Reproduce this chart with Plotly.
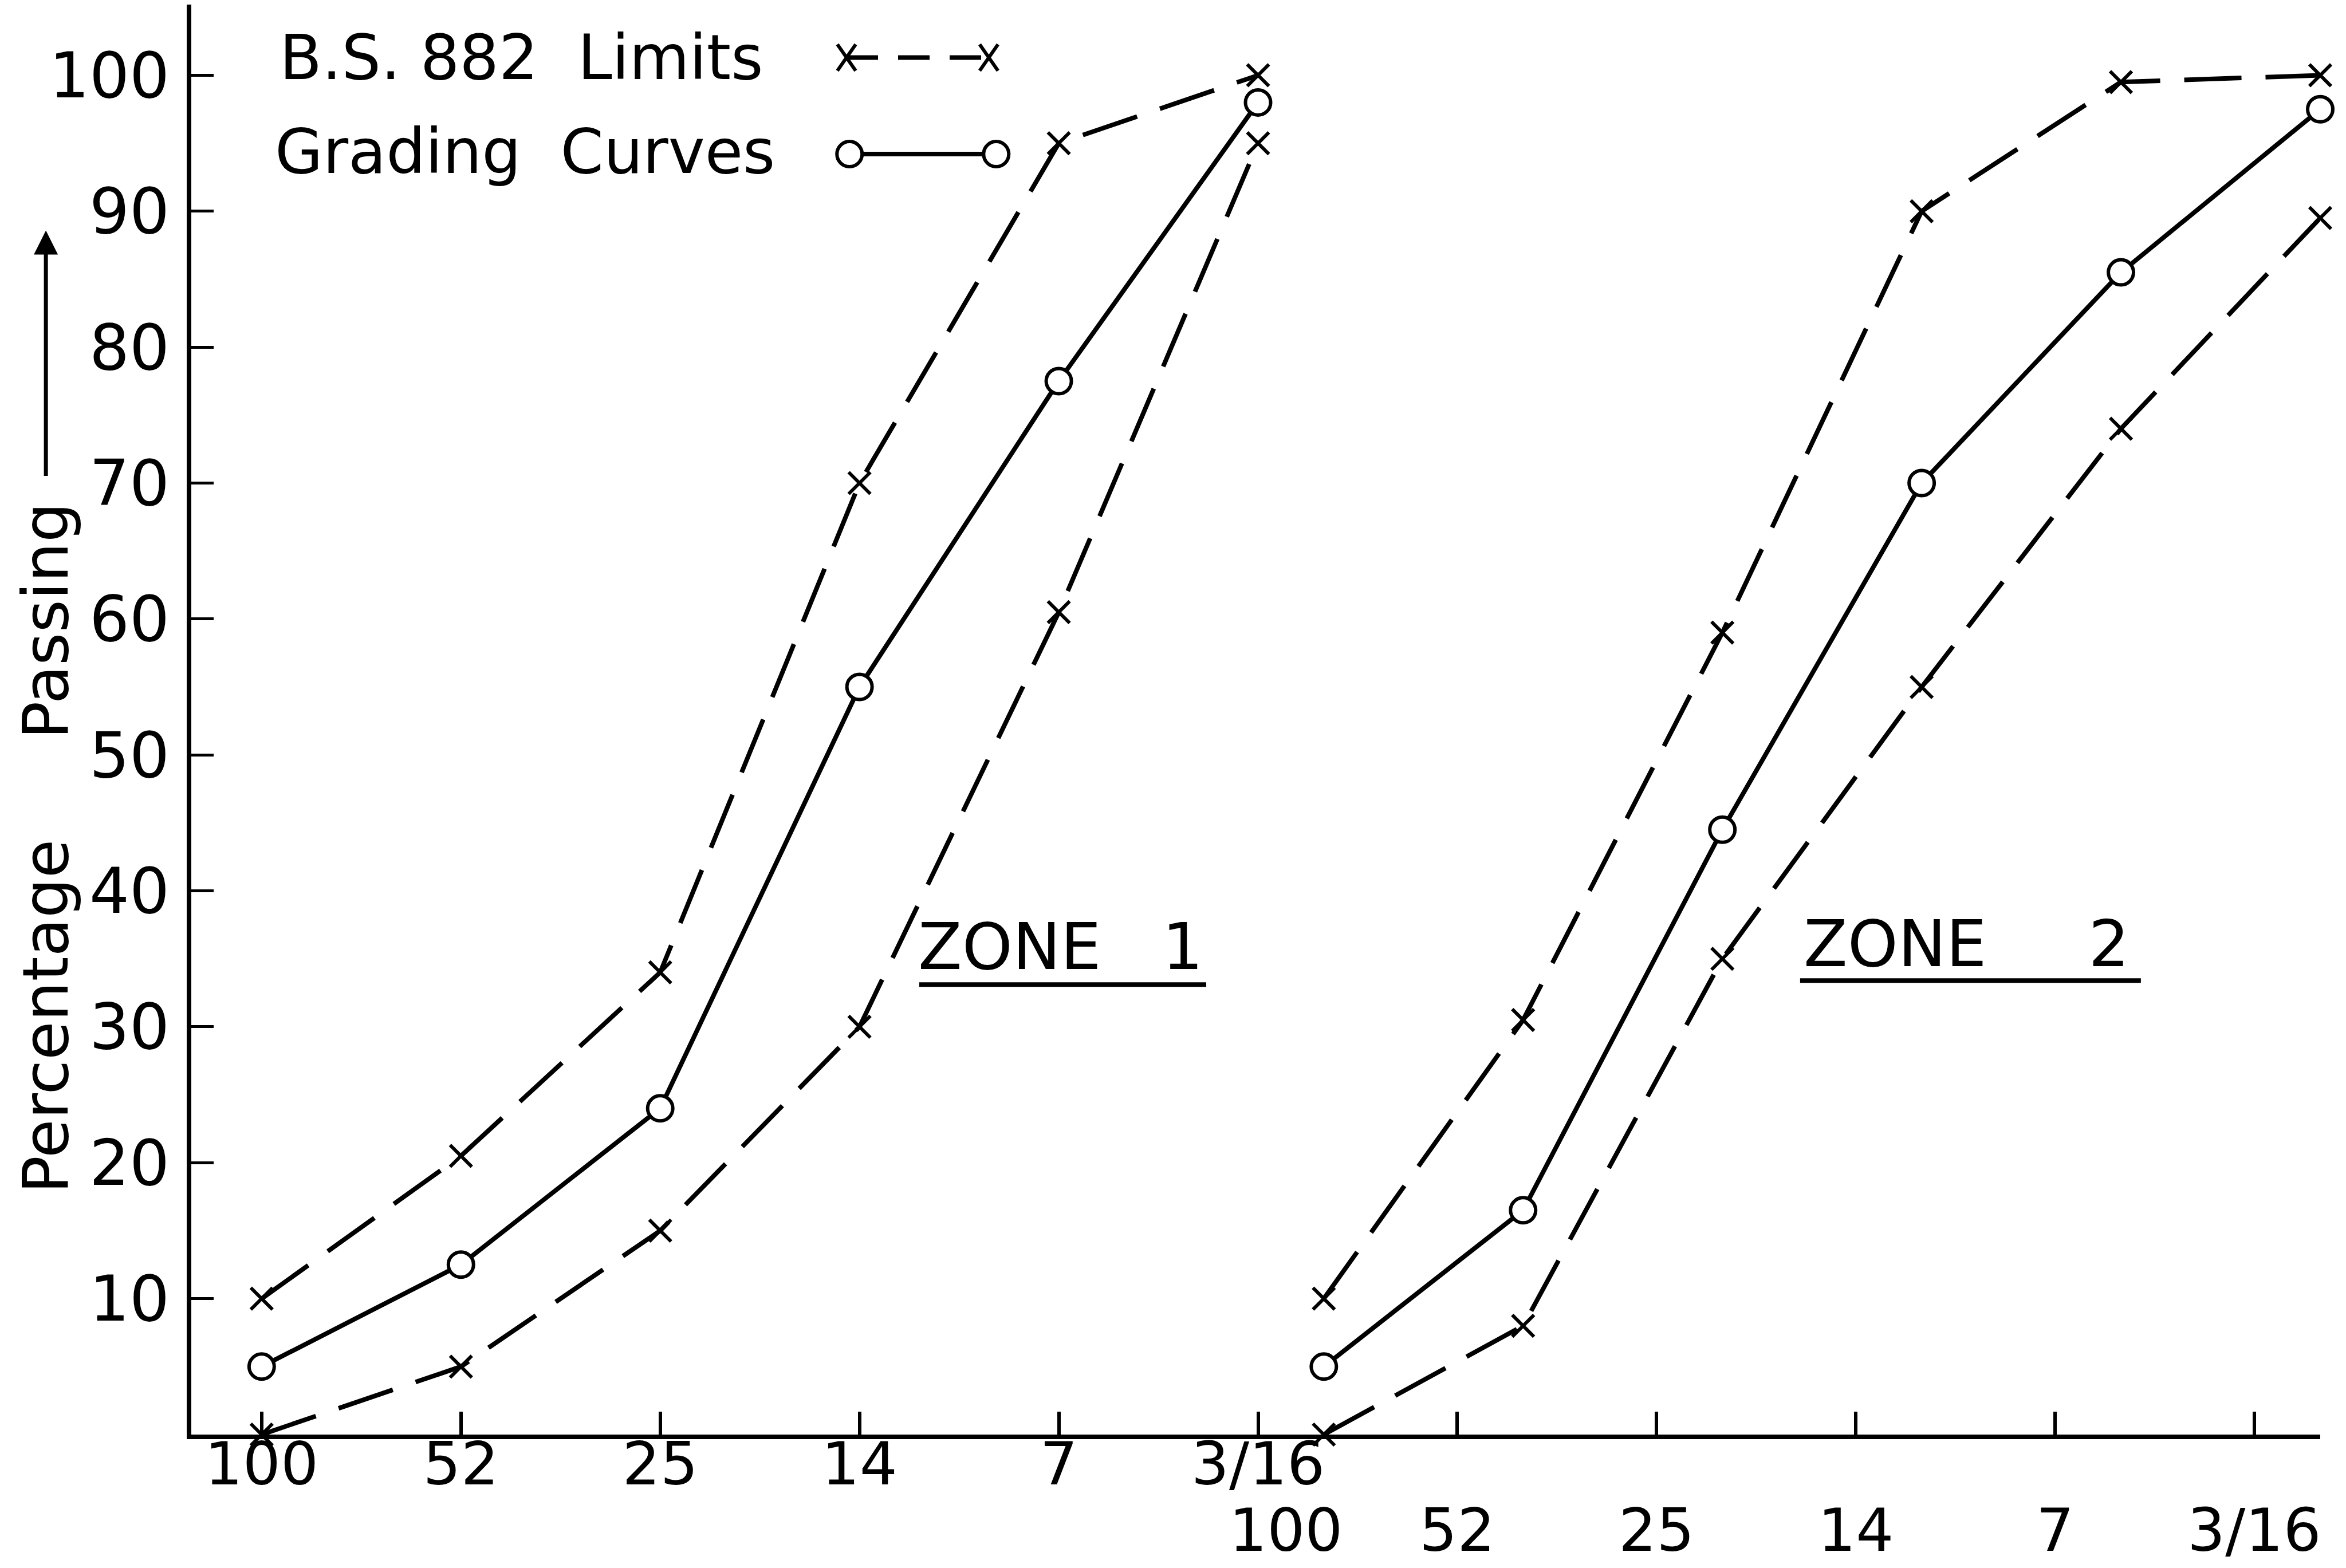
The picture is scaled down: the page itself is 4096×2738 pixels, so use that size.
import plotly.graph_objects as go

# ---------------- data ----------------
sieve_sizes = ["100", "52", "25", "14", "7", "3/16"]
zone2_offset = 5.33  # zone-2 curves are drawn shifted along the same axis

zone1_upper = [10, 20.5, 34, 70, 95, 100]
zone1_lower = [0, 5, 15, 30, 60.5, 95]
zone1_grading = [5, 12.5, 24, 55, 77.5, 98]

zone2_upper = [10, 30.5, 59, 90, 99.5, 100]
zone2_lower = [0, 8, 35, 55, 74, 89.5]
zone2_grading = [5, 16.5, 44.5, 70, 85.5, 97.5]

y_tick_values = [10, 20, 30, 40, 50, 60, 70, 80, 90, 100]

# ---------------- styling ----------------
FONT = "DejaVu Sans"
BLACK = "black"
DASH = "100px,42px"
LW = 8

n = len(sieve_sizes)
x1 = list(range(n))
x2 = [i + zone2_offset for i in range(n)]

fig = go.Figure()


def limit_trace(x, y):
    return go.Scatter(
        x=x, y=y, mode="lines+markers", showlegend=False, cliponaxis=False,
        line=dict(color=BLACK, width=LW, dash=DASH),
        marker=dict(symbol="x-thin", size=38, color=BLACK,
                    line=dict(color=BLACK, width=6)),
    )


def grading_trace(x, y):
    return go.Scatter(
        x=x, y=y, mode="lines+markers", showlegend=False, cliponaxis=False,
        line=dict(color=BLACK, width=LW),
        marker=dict(symbol="circle", size=44, color="white",
                    line=dict(color=BLACK, width=6)),
    )


fig.add_trace(limit_trace(x1, zone1_upper))
fig.add_trace(limit_trace(x1, zone1_lower))
fig.add_trace(limit_trace(x2, zone2_upper))
fig.add_trace(limit_trace(x2, zone2_lower))
fig.add_trace(grading_trace(x1, zone1_grading))
fig.add_trace(grading_trace(x2, zone2_grading))

# ticks at every sieve position of both zones; zone-1 labels on first row
tickvals = list(range(2 * n - 1))
ticktext = [sieve_sizes[i] if i < n else "" for i in tickvals]

# zone-2 labels form a second row (the first one sits a little right of tick 5)
row2_x = [n - 1 + 0.14] + [n - 1 + i for i in range(1, n)]

fig.update_layout(
    width=4096, height=2738,
    margin=dict(l=326, r=53, t=0, b=241, pad=0, autoexpand=False),
    paper_bgcolor="white", plot_bgcolor="white",
    font=dict(family=FONT, color=BLACK, size=108),
    xaxis=dict(
        range=[-0.353, 10.33], showgrid=False, zeroline=False,
        showline=True, linecolor=BLACK, linewidth=8,
        ticks="inside", ticklen=40, tickwidth=6, tickcolor=BLACK,
        tickvals=tickvals, ticktext=ticktext, automargin=False,
        tickfont=dict(family=FONT, size=104, color=BLACK),
        ticklabelstandoff=-46,
    ),
    yaxis=dict(
        range=[0, 105.2], showgrid=False, zeroline=False,
        showline=True, linecolor=BLACK, linewidth=8,
        ticks="inside", ticklen=39, tickwidth=5, tickcolor=BLACK,
        tickvals=y_tick_values, automargin=False,
        tickfont=dict(family=FONT, size=110, color=BLACK),
        ticklabelstandoff=8,
    ),
)

NB = "\u00a0"
annotations = [
    # axis title (rotated)
    dict(text="Percentage" + NB * 5 + "Passing", textangle=-90,
         xref="paper", yref="paper", x=-0.0683, y=0.41,
         xanchor="center", yanchor="middle", showarrow=False,
         font=dict(size=110)),
    # arrow after "Passing"
    dict(text="", xref="paper", yref="paper", x=-0.0683, y=0.842,
         showarrow=True, ax=0, ay=430, arrowhead=2, arrowsize=1.2,
         arrowwidth=7, arrowcolor=BLACK, standoff=0, startstandoff=0),
    # legend texts
    dict(text="B.S. 882" + NB * 2 + "Limits", xref="x", yref="y",
         x=0.083, y=101.3, xanchor="left", yanchor="middle",
         showarrow=False, font=dict(size=108)),
    dict(text="Grading" + NB * 2 + "Curves", xref="x", yref="y",
         x=0.06, y=94.4, xanchor="left", yanchor="middle",
         showarrow=False, font=dict(size=108)),
    # zone labels
    dict(text="ZONE" + NB * 3 + "1", xref="x", yref="y", x=4.01, y=35.9,
         xanchor="center", yanchor="middle", showarrow=False,
         font=dict(size=112)),
    dict(text="ZONE" + NB * 5 + "2", xref="x", yref="y", x=8.555, y=36.1,
         xanchor="center", yanchor="middle", showarrow=False,
         font=dict(size=112)),
]
for xv, label in zip(row2_x, sieve_sizes):
    annotations.append(dict(text=label, xref="x", yref="paper", x=xv,
                            y=-0.067, xanchor="center", yanchor="middle",
                            showarrow=False, font=dict(size=104)))
fig.update_layout(annotations=annotations)

shapes = [
    # zone underlines
    dict(type="line", xref="x", yref="y", x0=3.30, x1=4.74, y0=33.1, y1=33.1,
         line=dict(color=BLACK, width=8)),
    dict(type="line", xref="x", yref="y", x0=7.72, x1=9.43, y0=33.4, y1=33.4,
         line=dict(color=BLACK, width=8)),
    # legend key: limits (dashed)
    dict(type="line", xref="x", yref="y", x0=2.935, x1=3.649, y0=101.3, y1=101.3,
         line=dict(color=BLACK, width=LW, dash="55px,35px")),
    # legend key: grading (solid)
    dict(type="line", xref="x", yref="y", x0=2.95, x1=3.686, y0=94.2, y1=94.2,
         line=dict(color=BLACK, width=LW)),
]


def x_glyph(xa, ya):
    out = []
    for (a, b) in [((-16, -23), (16, 23)), ((-16, 23), (16, -23))]:
        out.append(dict(type="line", xref="x", yref="y",
                        xsizemode="pixel", ysizemode="pixel",
                        xanchor=xa, yanchor=ya,
                        x0=a[0], x1=b[0], y0=a[1], y1=b[1],
                        line=dict(color=BLACK, width=6), layer="above"))
    return out


def o_glyph(xa, ya):
    return [dict(type="circle", xref="x", yref="y",
                 xsizemode="pixel", ysizemode="pixel",
                 xanchor=xa, yanchor=ya, x0=-22, x1=22, y0=-22, y1=22,
                 fillcolor="white", line=dict(color=BLACK, width=6),
                 layer="above")]


shapes += x_glyph(2.935, 101.3) + x_glyph(3.649, 101.3)
shapes += o_glyph(2.95, 94.2) + o_glyph(3.686, 94.2)
fig.update_layout(shapes=shapes)

fig.write_html("out.html")
